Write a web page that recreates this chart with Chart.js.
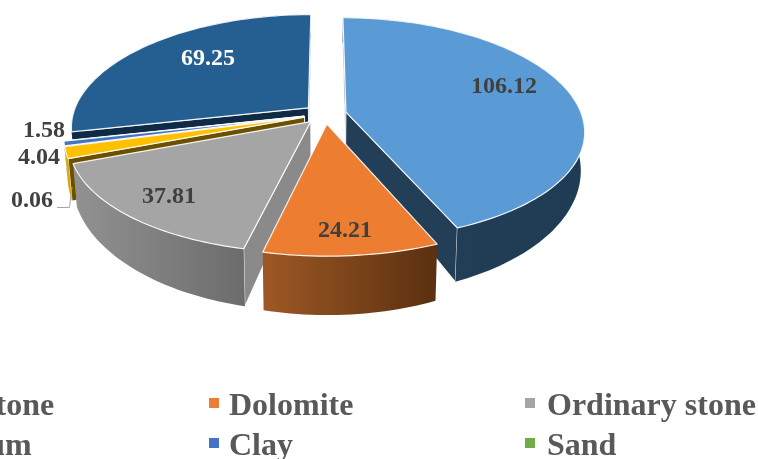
<!DOCTYPE html>
<html>
<head>
<meta charset="utf-8">
<title>Pie</title>
<script src="https://cdn.jsdelivr.net/npm/chart.js@4/dist/chart.umd.js"></script>
<style>
  html, body { margin:0; padding:0; background:#fff; width:758px; height:459px; overflow:hidden; }
  #wrap { position:relative; width:758px; height:459px; overflow:hidden; }
  #pie { position:absolute; left:0; top:0; }
  .sq { position:absolute; width:10px; height:10px; }
  .txt { position:absolute; font:bold 32px "Liberation Serif", serif; color:#595959; white-space:nowrap; line-height:40px; }
</style>
</head>
<body>
<div id="wrap"><canvas id="pie" width="758" height="459"></canvas></div>
<script>
// data
const categories = ["Limestone","Dolomite","Ordinary stone","Gypsum","Clay","Sand","Others"];
const values = [106.12,24.21,37.81,4.04,1.58,0.06,69.25];
const valueLabels = ["106.12","24.21","37.81","4.04","1.58","0.06","69.25"];

// styles
const topColors = ["#5B9BD5","#ED7D31","#A5A5A5","#FFC000","#4472C4","#70AD47","#255E91"];
const faceColors = ["#233F57","#8A4A1C","#8A8A8A","#6B5000","#1E3560","#3A5A24","#0F2A45"];
const wallLeft = ["#233F57","#9E5824","#929292","#E0A800","#28447A","#3A5A24","#0F2A45"];
const wallRight = ["#1F3C55","#5A3010","#6C6C6C","#E0A800","#28447A","#3A5A24","#0F2A45"];
const labelColors = ["#404040","#404040","#404040","#404040","#404040","#404040","#ffffff"];
const labelPos = [[504,87],[345,231],[169,197],[39,158],[44,131],[32,201],[208,59]];
const drawOrder = [6,5,4,3,0,2,1];

// projection of the pie plane to the screen
const cx = 325, cy = 114, A = 235.5, B = 109, perspX = 0.167, perspY = 0.15;
const depth = 36, depthPow = 2.45, shrink = 0.985, explode = 0.091;

function project(u, v, low){
  const w = 1 / (1 - perspX * v);
  let x = cx + u * A * w;
  let y = cy + v * B / (1 - perspY * v);
  if(low){
    x = cx + (x - cx) * shrink;
    y = y + depth * Math.pow(w, depthPow);
  }
  return [x, y];
}

function pathPts(ctx, pts){
  ctx.beginPath();
  pts.forEach((p, i) => { if(i == 0) ctx.moveTo(p[0], p[1]); else ctx.lineTo(p[0], p[1]); });
  ctx.closePath();
}

function area(pts){
  let s = 0;
  pts.forEach((p, i) => {
    const q = pts[(i + 1) % pts.length];
    s += p[0] * q[1] - q[0] * p[1];
  });
  return s;
}

const pie3d = {
  id: "pie3d",
  // the arcs are laid out by Chart.js, only their painting is replaced here
  beforeDatasetDraw(){ return false; },
  afterDatasetsDraw(chart){
    const ctx = chart.ctx;
    const arcs = chart.getDatasetMeta(0).data;
    ctx.save();
    ctx.lineJoin = "round";
    drawOrder.forEach(i => {
      const arc = arcs[i];
      const a0 = arc.startAngle, a1 = arc.endAngle, mid = (a0 + a1) / 2;
      const u0 = Math.cos(mid) * explode, v0 = Math.sin(mid) * explode;
      const steps = Math.max(2, Math.ceil((a1 - a0) * 40));
      const rim = [], rimLow = [];
      for(let s = 0; s <= steps; s++){
        const a = a0 + (a1 - a0) * s / steps;
        const u = u0 + Math.cos(a), v = v0 + Math.sin(a);
        rim.push(project(u, v, false));
        rimLow.push(project(u, v, true));
      }
      const apex = project(u0, v0, false), apexLow = project(u0, v0, true);

      // cut faces, back facing ones are skipped
      ctx.fillStyle = faceColors[i];
      ctx.strokeStyle = "rgba(255,255,255,0.85)";
      ctx.lineWidth = 1;
      const startFace = [apex, rim[0], rimLow[0], apexLow];
      const endFace = [apex, rim[steps], rimLow[steps], apexLow];
      if(area(startFace) < 0){
        pathPts(ctx, startFace);
        ctx.fill(); ctx.stroke();
      }
      if(area(endFace) > 0){
        pathPts(ctx, endFace);
        ctx.fill(); ctx.stroke();
      }

      // outer wall, only the part that faces the viewer shows
      const xs = rim.map(p => p[0]);
      const grad = ctx.createLinearGradient(Math.min(...xs), 0, Math.max(...xs), 0);
      grad.addColorStop(0, wallLeft[i]);
      grad.addColorStop(1, wallRight[i]);
      ctx.fillStyle = grad;
      pathPts(ctx, rim.concat(rimLow.slice().reverse()));
      ctx.fill();

      // top
      ctx.fillStyle = topColors[i];
      ctx.lineWidth = 1.2;
      ctx.strokeStyle = "rgba(255,255,255,0.9)";
      pathPts(ctx, [apex].concat(rim));
      ctx.fill(); ctx.stroke();
    });

    // leader of the smallest slice
    ctx.strokeStyle = "#A6A6A6";
    ctx.lineWidth = 1;
    ctx.beginPath();
    ctx.moveTo(57, 207.5);
    ctx.lineTo(69.5, 207.5);
    ctx.lineTo(72, 187);
    ctx.stroke();

    // value labels
    ctx.font = 'bold 24px "Liberation Serif", serif';
    ctx.textAlign = "center";
    ctx.textBaseline = "middle";
    valueLabels.forEach((t, i) => {
      ctx.fillStyle = labelColors[i];
      ctx.fillText(t, labelPos[i][0], labelPos[i][1]);
    });
    ctx.restore();
  }
};

new Chart(document.getElementById("pie"), {
  type: "pie",
  plugins: [pie3d],
  data: {
    labels: categories,
    datasets: [{ data: values, backgroundColor: topColors, borderWidth: 0 }]
  },
  options: {
    responsive: false,
    animation: false,
    plugins: { legend: { display: false }, tooltip: { enabled: false } }
  }
});

// legend, its left column runs off the page like in the original
const legendSq = [-108,209,525];
const legendTxt = [[-88,229,547],[-84,229,547]];
const legendY = [384,424];
const wrap = document.getElementById("wrap");
for(let i = 0; i < 6; i++){
  const col = i % 3, row = Math.floor(i / 3);
  const sq = document.createElement("div");
  sq.className = "sq";
  sq.style.cssText = "left:" + legendSq[col] + "px; top:" + (legendY[row] + 14) + "px; background:" + topColors[i] + ";";
  const txt = document.createElement("div");
  txt.className = "txt";
  txt.style.cssText = "left:" + legendTxt[row][col] + "px; top:" + legendY[row] + "px;";
  txt.innerText = categories[i];
  wrap.appendChild(sq);
  wrap.appendChild(txt);
}
</script>
</body>
</html>
